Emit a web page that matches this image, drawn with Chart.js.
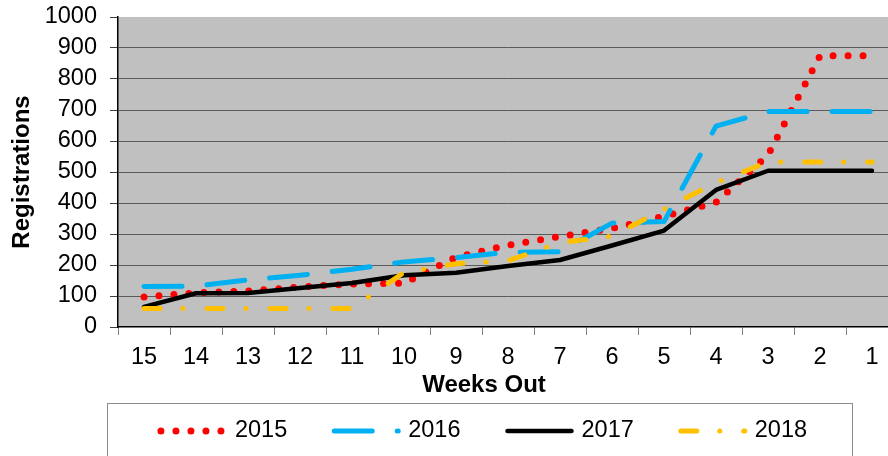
<!DOCTYPE html>
<html>
<head>
<meta charset="utf-8">
<title>Registrations by Weeks Out</title>
<script src="https://cdn.jsdelivr.net/npm/chart.js@4.4.1/dist/chart.umd.min.js"></script>
<style>
  html, body { margin: 0; padding: 0; overflow: hidden; background: #fff; }
  #wrap { width: 960px; height: 456px; }
</style>
</head>
<body>
<div id="wrap"><canvas id="regChart" width="960" height="456"></canvas></div>
<script>
// categories and series
const weeksOut = ['15', '14', '13', '12', '11', '10', '9', '8', '7', '6', '5', '4', '3', '2', '1'];
const regs2015 = [97, 110, 116, 129, 139, 141, 225, 264, 292, 318, 357, 402, 555, 875, 875];
const regs2016 = [131, 132, 152, 167, 186, 210, 224, 241, 243, 335, 340, 648, 695, 695, 695];
const regs2017 = [65, 109, 110, 126, 142, 167, 175, 197, 216, 263, 311, 442, 504, 504, 504];
const regs2018 = [60, 60, 60, 60, 60, 176, 204, 214, 272, 293, 380, 466, 532, 532, 532];
const yMin = 0;
const yMax = 1000;
const yStep = 100;

const FONT = '"Liberation Sans", Arial, sans-serif';

// grey plot area like the Excel original
const plotBackground = {
  id: 'plotBackground',
  beforeDraw(chart) {
    const { ctx, chartArea: a } = chart;
    ctx.save();
    ctx.fillStyle = '#c0c0c0';
    ctx.fillRect(a.left, a.top, a.right - a.left, a.bottom - a.top);
    ctx.restore();
  }
};

// x title + boxed legend, centred on the whole chart (not the plot)
const boxedLegend = {
  id: 'boxedLegend',
  afterDraw(chart) {
    const ctx = chart.ctx;
    const midX = 484;
    ctx.save();
    ctx.fillStyle = '#000';
    ctx.font = 'bold 24px ' + FONT;
    ctx.textAlign = 'center';
    ctx.textBaseline = 'middle';
    ctx.fillText('Weeks Out', midX, 385);

    ctx.strokeStyle = '#8c8c8c';
    ctx.lineWidth = 1;
    ctx.strokeRect(107.5, 403.5, 745, 80);

    ctx.font = '23.5px ' + FONT;
    const lineLen = 64, gap = 10, spacing = 47, y = 431;
    const items = chart.data.datasets.map(ds => ({ ds, w: lineLen + gap + ctx.measureText(ds.label).width }));
    const total = items.reduce((s, it) => s + it.w, 0) + spacing * (items.length - 1);
    let x = midX - total / 2;
    items.forEach(({ ds, w }) => {
      ctx.save();
      ctx.strokeStyle = ds.borderColor;
      ctx.lineWidth = ds.borderWidth;
      ctx.lineCap = ds.borderCapStyle;
      ctx.setLineDash(ds.borderDash || []);
      ctx.beginPath();
      ctx.moveTo(x, y);
      ctx.lineTo(x + lineLen, y);
      ctx.stroke();
      ctx.restore();
      ctx.textAlign = 'left';
      ctx.fillText(ds.label, x + lineLen + gap, y);
      x += w + spacing;
    });
    ctx.restore();
  }
};

new Chart(document.getElementById('regChart'), {
  type: 'line',
  data: {
    labels: weeksOut,
    datasets: [
      { label: '2015', data: regs2015, borderColor: '#ff0000', borderWidth: 7, borderDash: [0, 15], order: 4 },
      { label: '2016', data: regs2016, borderColor: '#00b0f0', borderWidth: 5, borderDash: [38, 25], order: 3 },
      { label: '2017', data: regs2017, borderColor: '#000000', borderWidth: 4.5, borderDash: [], order: 2 },
      { label: '2018', data: regs2018, borderColor: '#ffc000', borderWidth: 5, borderDash: [16, 23, 0, 24], order: 1 }
    ].map(ds => Object.assign(ds, {
      fill: false,
      tension: 0,
      pointRadius: 0,
      borderCapStyle: 'round',
      borderJoinStyle: 'round'
    }))
  },
  options: {
    responsive: false,
    animation: false,
    devicePixelRatio: 1,
    layout: { padding: { left: 0, top: 17, right: 62, bottom: 69 } },
    plugins: {
      legend: { display: false },
      tooltip: { enabled: false }
    },
    scales: {
      x: {
        offset: true,
        afterFit(scale) { scale.height = 60; },
        grid: { display: true, drawOnChartArea: false, offset: true, tickLength: 8, tickColor: '#808080' },
        border: { color: '#000', width: 1.5 },
        ticks: { color: '#000', padding: 8, autoSkip: false, maxRotation: 0, font: { family: FONT, size: 23.5 } }
      },
      y: {
        min: yMin,
        max: yMax,
        afterFit(scale) {
          scale.width = 118;
          scale.paddingTop = 0;
          scale.paddingBottom = 0;
        },
        grid: {
          color: ctx => (ctx.tick && (ctx.tick.value === yMax || ctx.tick.value === yMin)) ? 'rgba(0,0,0,0)' : '#5a5a5a',
          lineWidth: 1,
          tickLength: 8,
          tickColor: '#404040'
        },
        border: { color: '#000', width: 1.5 },
        ticks: {
          stepSize: yStep,
          autoSkip: false,
          color: '#000',
          padding: 13,
          font: { family: FONT, size: 23.5 },
          callback: v => String(v)
        },
        title: {
          display: true,
          text: 'Registrations',
          color: '#000',
          padding: { top: 8, bottom: 0 },
          font: { family: FONT, size: 24, weight: 'bold' }
        }
      }
    }
  },
  plugins: [plotBackground, boxedLegend]
});
</script>
</body>
</html>
